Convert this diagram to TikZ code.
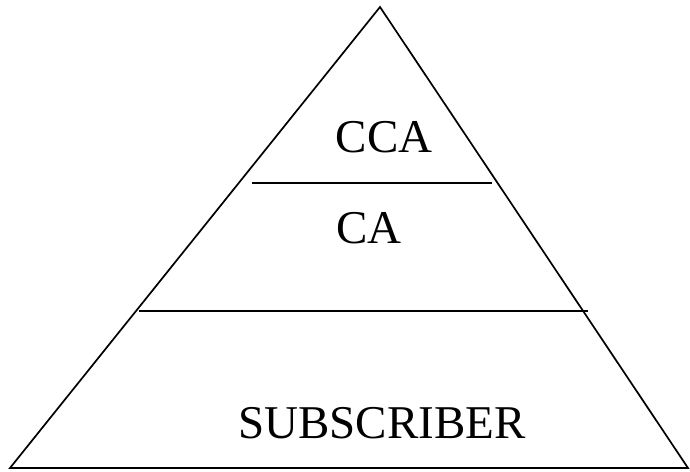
\documentclass[tikz,border=0pt]{standalone}
\usepackage{fontspec}
\setmainfont{Liberation Serif}
\begin{document}
\begin{tikzpicture}[x=1pt,y=-1pt,
  edge/.style={draw=black,line width=1.7pt,line join=miter},
  divider/.style={draw=black,line width=2.3pt},
  tier/.style={font=\fontsize{47}{50}\selectfont,anchor=base,inner sep=0pt}]
\useasboundingbox (0,0) rectangle (690,471);
\coordinate (apex) at (380,7);
\coordinate (bl) at (10,468);
\coordinate (br) at (688,468);
\draw[edge] (bl) -- (apex) -- (br) -- cycle;
\coordinate (d1l) at (252,183);
\coordinate (d1r) at (492,183);
\coordinate (d2l) at (139,311);
\coordinate (d2r) at (588,311);
\draw[divider] (d1l) -- (d1r);
\draw[divider] (d2l) -- (d2r);
\node[tier] (cca) at (384,152) {CCA};
\node[tier] (ca) at (369,243) {CA};
\node[tier] (sub) at (382,438) {SUBSCRIBER};
\end{tikzpicture}
\end{document}
